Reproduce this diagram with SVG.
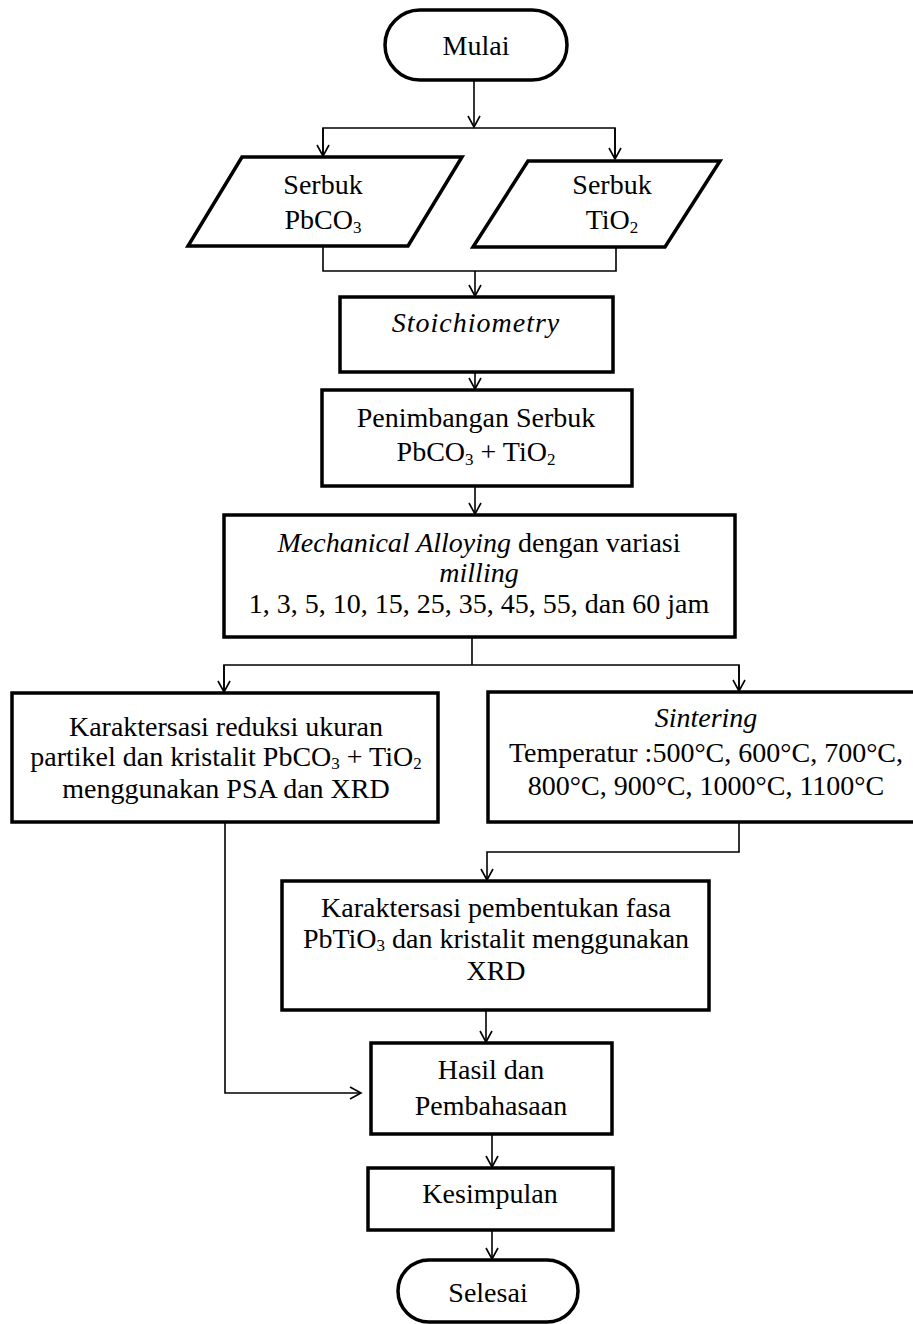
<svg xmlns="http://www.w3.org/2000/svg" width="913" height="1324" viewBox="0 0 913 1324">
<style>
.box{fill:#fff;stroke:#000;stroke-width:3.5}
.ln{fill:none;stroke:#000;stroke-width:1.6}
text{font-family:"Liberation Serif","Times New Roman",serif;font-size:28px;fill:#000;text-anchor:middle}
.it{font-style:italic}
.sub{font-size:17px}
</style>
<defs>
<marker id="ah" markerUnits="userSpaceOnUse" markerWidth="16" markerHeight="16" refX="12" refY="7" orient="auto">
<path d="M1,1 L12,7 L1,13" fill="none" stroke="#000" stroke-width="1.6"/>
</marker>
</defs>
<g id="connectors">
<line class="ln" x1="474" y1="80" x2="474" y2="127" marker-end="url(#ah)"/>
<polyline class="ln" points="323,156 323,128 615,128 615,159"/>
<line class="ln" x1="323" y1="128" x2="323" y2="156" marker-end="url(#ah)"/>
<line class="ln" x1="615" y1="128" x2="615" y2="159" marker-end="url(#ah)"/>
<polyline class="ln" points="323,246 323,271 616,271 616,247"/>
<line class="ln" x1="475" y1="271" x2="475" y2="296" marker-end="url(#ah)"/>
<line class="ln" x1="475" y1="372" x2="475" y2="389" marker-end="url(#ah)"/>
<line class="ln" x1="475" y1="486" x2="475" y2="514" marker-end="url(#ah)"/>
<polyline class="ln" points="472,637 472,665"/>
<polyline class="ln" points="224,692 224,665 739,665 739,691"/>
<line class="ln" x1="224" y1="665" x2="224" y2="692" marker-end="url(#ah)"/>
<line class="ln" x1="739" y1="665" x2="739" y2="691" marker-end="url(#ah)"/>
<polyline class="ln" points="739,822 739,852 487,852 487,880" marker-end="url(#ah)"/>
<line class="ln" x1="486" y1="1010" x2="486" y2="1042" marker-end="url(#ah)"/>
<polyline class="ln" points="225,822 225,1093 361,1093" marker-end="url(#ah)"/>
<line class="ln" x1="492" y1="1134" x2="492" y2="1167" marker-end="url(#ah)"/>
<line class="ln" x1="492" y1="1230" x2="492" y2="1259" marker-end="url(#ah)"/>
</g>
<g id="mulai">
<rect class="box" x="385" y="10" width="182" height="70" rx="35"/>
<text x="476" y="55">Mulai</text>
</g>
<g id="serbuk-pbco3">
<polygon class="box" points="242,157 462,157 408,246 188,246"/>
<text x="323" y="194">Serbuk</text>
<text x="323" y="229">PbCO<tspan class="sub" dy="4">3</tspan></text>
</g>
<g id="serbuk-tio2">
<polygon class="box" points="528,161 720,161 665,247 473,247"/>
<text x="612" y="194">Serbuk</text>
<text x="612" y="229">TiO<tspan class="sub" dy="4">2</tspan></text>
</g>
<g id="stoichiometry">
<rect class="box" x="340" y="297" width="273" height="75"/>
<text class="it" x="476" y="332" letter-spacing="1">Stoichiometry</text>
</g>
<g id="penimbangan">
<rect class="box" x="322" y="390" width="310" height="96"/>
<text x="476" y="427">Penimbangan Serbuk</text>
<text x="476" y="461">PbCO<tspan class="sub" dy="4">3</tspan><tspan dy="-4"> + TiO</tspan><tspan class="sub" dy="4">2</tspan></text>
</g>
<g id="mechanical-alloying">
<rect class="box" x="224" y="515" width="511" height="122"/>
<text x="479" y="552"><tspan class="it">Mechanical Alloying</tspan> dengan variasi</text>
<text class="it" x="479" y="582">milling</text>
<text x="479" y="613">1, 3, 5, 10, 15, 25, 35, 45, 55, dan 60 jam</text>
</g>
<g id="karakterisasi-psa">
<rect class="box" x="12" y="693" width="426" height="129"/>
<text x="226" y="736">Karaktersasi reduksi ukuran</text>
<text x="226" y="766">partikel dan kristalit PbCO<tspan class="sub" dy="3">3</tspan><tspan dy="-3"> + TiO</tspan><tspan class="sub" dy="3">2</tspan></text>
<text x="226" y="798">menggunakan PSA dan XRD</text>
</g>
<g id="sintering">
<rect class="box" x="488" y="692" width="436" height="130"/>
<text class="it" x="706" y="727">Sintering</text>
<text x="706" y="762">Temperatur :500°C, 600°C, 700°C,</text>
<text x="706" y="795">800°C, 900°C, 1000°C, 1100°C</text>
</g>
<g id="karakterisasi-xrd">
<rect class="box" x="282" y="881" width="427" height="129"/>
<text x="496" y="917">Karaktersasi pembentukan fasa</text>
<text x="496" y="948">PbTiO<tspan class="sub" dy="3">3</tspan><tspan dy="-3"> dan kristalit menggunakan</tspan></text>
<text x="496" y="980">XRD</text>
</g>
<g id="hasil">
<rect class="box" x="371" y="1043" width="241" height="91"/>
<text x="491" y="1079">Hasil dan</text>
<text x="491" y="1115">Pembahasaan</text>
</g>
<g id="kesimpulan">
<rect class="box" x="368" y="1168" width="245" height="62"/>
<text x="490" y="1203">Kesimpulan</text>
</g>
<g id="selesai">
<rect class="box" x="398" y="1260" width="180" height="62" rx="31"/>
<text x="488" y="1302">Selesai</text>
</g>
</svg>
